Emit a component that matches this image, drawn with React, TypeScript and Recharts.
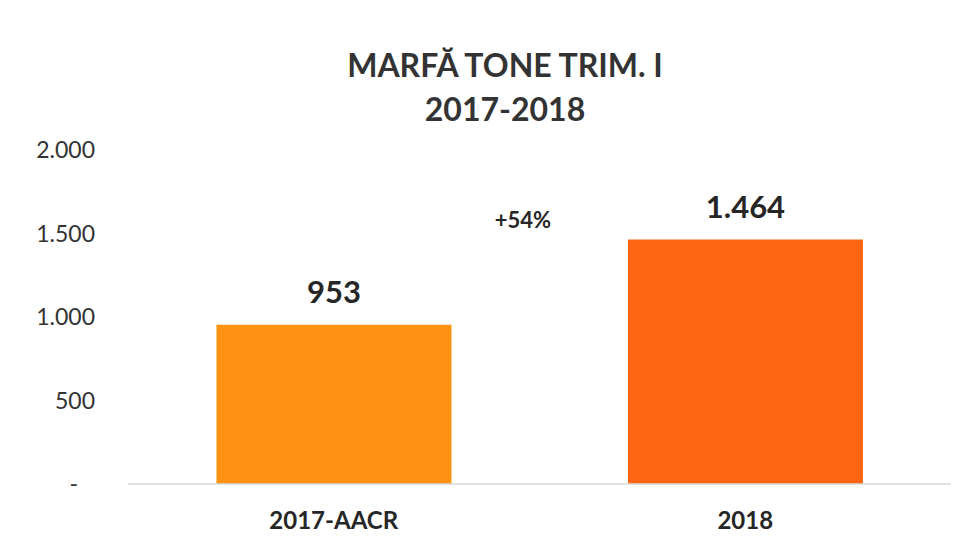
import { BarChart, Bar, XAxis, YAxis, Cell, LabelList } from 'recharts';

const categories = ['2017-AACR', '2018'];
const tone = [953, 1464];
const barColors = ['#FF9211', '#FF6512'];
const yTicks = [0, 500, 1000, 1500, 2000];
const titleLines = ['MARFĂ TONE TRIM. I', '2017-2018'];

const data = categories.map((name, i) => ({ name, value: tone[i] }));

const FONT = 'Lato, "Open Sans", sans-serif';

// 1464 -> "1.464", 0 -> "-"
const fmt = (n: number) =>
  n === 0 ? '-' : String(n).replace(/\B(?=(\d{3})+(?!\d))/g, '.');

const growth = Math.round((tone[1] / tone[0] - 1) * 100);

const YTick = ({ x, y, payload }: any) => (
  <text
    x={payload.value === 0 ? x - 17 : x}
    y={y}
    dy={8}
    textAnchor="end"
    fontFamily={FONT}
    fontSize={23}
    fill="#333"
  >
    {fmt(payload.value)}
  </text>
);

const ValueLabel = (props: any) => {
  const { x, y, width, value, index } = props;
  return (
    <g>
      <text
        x={x + width / 2}
        y={y - 22}
        textAnchor="middle"
        fontFamily={FONT}
        fontWeight={700}
        fontSize={31}
        fill="#262626"
      >
        {fmt(value)}
      </text>
      {index === 1 && (
        <text
          x={x - 105}
          y={y - 12}
          textAnchor="middle"
          fontFamily={FONT}
          fontWeight={700}
          fontSize={22}
          fill="#262626"
        >
          {`+${growth}%`}
        </text>
      )}
    </g>
  );
};

export default function App() {
  return (
    <div style={{ position: 'absolute', left: 0, top: 0, width: 971, height: 545, background: '#fff' }}>
      <svg width={971} height={545} style={{ position: 'absolute', left: 0, top: 0 }}>
        {titleLines.map((t, i) => (
          <text
            key={t}
            x={505}
            y={77 + i * 44}
            textAnchor="middle"
            fontFamily={FONT}
            fontWeight={700}
            fontSize={32}
            fill="#333"
          >
            {t}
          </text>
        ))}
      </svg>
      <div style={{ position: 'absolute', left: 0, top: 0 }}>
        <BarChart
          width={971}
          height={545}
          data={data}
          margin={{ top: 150, right: 20, bottom: 21, left: 0 }}
          barCategoryGap="21.5%"
        >
          <XAxis
            dataKey="name"
            axisLine={{ stroke: '#d9d9d9', strokeWidth: 1.5 }}
            tickLine={false}
            height={40}
            tick={{ fontFamily: FONT, fontWeight: 700, fontSize: 24, fill: '#262626' }}
            tickMargin={22}
          />
          <YAxis
            width={128}
            domain={[0, 2000]}
            ticks={yTicks}
            axisLine={false}
            tickLine={false}
            tick={<YTick />}
            tickMargin={27}
          />
          <Bar dataKey="value" isAnimationActive={false}>
            {data.map((d, i) => (
              <Cell key={d.name} fill={barColors[i]} />
            ))}
            <LabelList dataKey="value" content={<ValueLabel />} />
          </Bar>
        </BarChart>
      </div>
    </div>
  );
}
